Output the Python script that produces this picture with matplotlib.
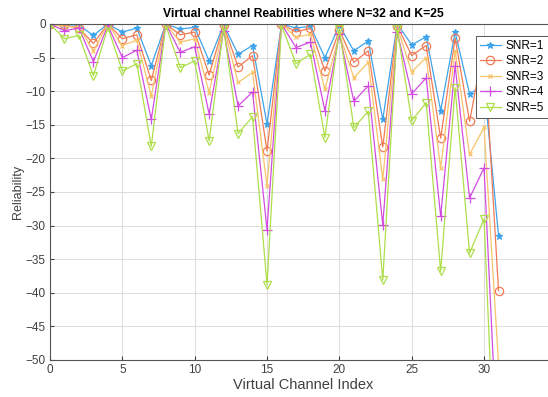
import matplotlib
matplotlib.use("Agg")
import matplotlib.pyplot as plt

plt.rcParams['font.family'] = ['Liberation Sans', 'DejaVu Sans']

idx = list(range(32))
snr1 = [0,-0.1,-0.2,-1.7,0,-1.2,-0.6,-6.2,0,-0.75,-0.5,-5.5,-0.1,-4.5,-3.2,-14.9,
        0,-0.6,-0.35,-5.0,-0.2,-4.0,-2.5,-14.2,0,-3.1,-1.9,-12.9,-1.2,-10.4,-9.0,-31.5]
snr2 = [0,-0.2,-0.6,-2.9,0,-2.2,-1.6,-8.4,0,-1.6,-1.2,-7.6,-0.2,-6.4,-4.7,-18.9,
        0,-1.2,-0.6,-7.0,-0.9,-5.7,-4.0,-18.3,-0.3,-4.7,-3.2,-17.0,-2.1,-14.5,-3.0,-39.7]
snr3 = [0,-0.4,-0.4,-4.0,0,-3.2,-2.4,-10.7,0,-2.7,-2.2,-10.2,-0.4,-8.7,-7.2,-24.1,
        0,-2.0,-1.5,-9.7,-1.5,-8.0,-5.7,-23.1,-0.5,-7.1,-5.0,-21.4,-4.0,-19.4,-15.4,-50.5]
snr4 = [0,-1.0,-0.6,-5.6,-0.2,-5.0,-3.9,-14.2,0,-4.2,-3.4,-13.4,-1.0,-12.2,-10.1,-30.6,
        0,-3.5,-2.7,-12.9,-1.5,-11.5,-9.2,-29.9,-1.2,-10.4,-8.0,-28.6,-6.2,-25.9,-21.4,-66.8]
snr5 = [0,-2.2,-1.7,-7.7,-0.5,-7.0,-5.9,-18.2,-0.2,-6.5,-5.5,-17.4,-0.5,-16.3,-13.8,-38.8,
        -0.2,-5.9,-4.5,-16.9,-0.8,-15.4,-13.0,-38.1,-0.8,-14.4,-11.7,-36.8,-9.5,-34.1,-29.0,-80.0]

labels = ["SNR=1", "SNR=2", "SNR=3", "SNR=4", "SNR=5"]
series = [snr1, snr2, snr3, snr4, snr5]
colors = ["#3ea3ea", "#f07a55", "#f8c46a", "#d24ce0", "#aede4a"]
markers = ["*", "o", "x", "+", "v"]
msizes = [5, 6, 3.5, 7, 6]
xticks = [0, 5, 10, 15, 20, 25, 30]
yticks = [0, -5, -10, -15, -20, -25, -30, -35, -40, -45, -50]

fig = plt.figure(figsize=(5.48, 3.97), dpi=100)
ax = fig.add_axes([50/548, 1-360/397, (556.4-50)/548, (360-24)/397])

for y, lab, c, m, ms in zip(series, labels, colors, markers, msizes):
    mfc = 'none' if m in ('o', 'v') else c
    ax.plot(idx, y, color=c, marker=m, markersize=ms, markerfacecolor=mfc,
            markeredgecolor=c, markeredgewidth=0.9, linewidth=0.9, label=lab)

ax.set_xlim(0, 35)
ax.set_ylim(-50, 0)
ax.set_xticks(xticks)
ax.set_yticks(yticks)
ax.grid(True, color="#dcdcdc", linewidth=0.7)
ax.set_axisbelow(True)
ax.tick_params(direction='in', length=3, labelsize=8.5, colors="#404040", pad=3)
for s in ax.spines.values():
    s.set_color("#555555")
    s.set_linewidth(0.8)

ax.set_title("Virtual channel Reabilities where N=32 and K=25", fontsize=8.7,
             fontweight='bold', pad=5)
ax.set_xlabel("Virtual Channel Index", fontsize=10.5, color="#404040", labelpad=1)
ax.set_ylabel("Reliability", fontsize=9, color="#404040", labelpad=1)

leg = fig.legend(loc='upper left', bbox_to_anchor=(475.7/548, 1-35.7/397),
                 fontsize=8.5, frameon=True, fancybox=False, edgecolor="#555555",
                 framealpha=1, handlelength=1.8, handletextpad=0.4,
                 borderpad=0.35, labelspacing=0.3, borderaxespad=0)
leg.get_frame().set_linewidth(0.7)

fig.savefig("out.png", dpi=100)
